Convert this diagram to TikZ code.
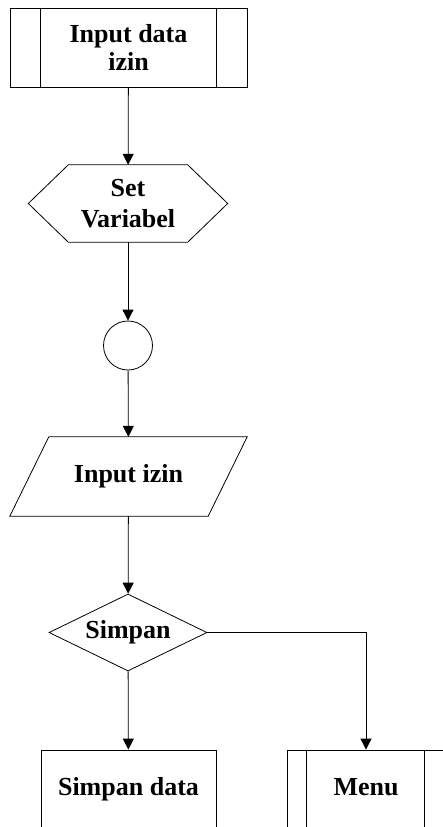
\documentclass[tikz,border=0pt]{standalone}
\usepackage{fontspec}
\setmainfont{Liberation Serif}
\usepackage{tikz}
\usetikzlibrary{arrows.meta,positioning,shapes.geometric}

\begin{document}
\begin{tikzpicture}[
    x=1pt, y=-1pt,
    >={Triangle[length=11pt,width=11pt]},
    font=\fontsize{26}{28}\selectfont\bfseries,
    every node/.style={inner sep=0pt},
    box/.style={
        rectangle,
        draw=black,
        line width=0.8pt,
        align=center
    },
    body/.style={
        rectangle,
        minimum height=77pt,
        align=center
    },
    decide/.style={
        diamond,
        draw=black,
        line width=0.8pt,
        aspect=2.05,
        minimum width=158pt,
        minimum height=77pt
    },
    endbox/.style={
        box,
        minimum height=78pt,
        text height=18pt,
        text depth=6pt
    },
    outline/.style={line width=0.8pt, line join=miter},
    link/.style={->, line width=0.8pt}
]

\clip (0,0) rectangle (443,827);

% Shapes
\node[box, minimum width=237pt, minimum height=79pt] (inputdata) at (128.5,47.5) {Input data\\izin};
\node[body, minimum width=119pt] (setvar) at (128,203.5) {Set\\[3pt]Variabel};
\node[circle, draw=black, line width=0.8pt, minimum size=49pt] (conn) at (128,345.5) {};
\node[body, minimum width=198pt, minimum height=79pt] (inputizin) at (128.5,476.5) {Input izin};
\node[decide] (simpan) at (128,632.5) {Simpan};
\node[endbox, minimum width=175pt] (simpandata) at (128.5,789) {Simpan data};
\node[endbox, minimum width=158pt] (menu) at (366,789) {Menu};

% Hexagon outline
\draw[outline] (setvar.north west) -- (setvar.north east) -- ([xshift=40pt]setvar.east)
    -- (setvar.south east) -- (setvar.south west) -- ([xshift=-40pt]setvar.west) -- cycle;

% Parallelogram outline
\draw[outline] ([xshift=19.5pt]inputizin.north west) -- ([xshift=19.5pt]inputizin.north east)
    -- ([xshift=-19.5pt]inputizin.south east) -- ([xshift=-19.5pt]inputizin.south west) -- cycle;

% Inner lines of the sub-process boxes
\draw[outline] ([xshift=31pt]inputdata.north west) -- ([xshift=31pt]inputdata.south west);
\draw[outline] ([xshift=-31pt]inputdata.north east) -- ([xshift=-31pt]inputdata.south east);
\draw[outline] ([xshift=20pt]menu.north west) -- ([xshift=20pt]menu.south west);
\draw[outline] ([xshift=-21pt]menu.north east) -- ([xshift=-21pt]menu.south east);

% Arrows
\draw[link] (inputdata) -- (setvar);
\draw[link] (setvar) -- (conn);
\draw[link] (conn) -- (inputizin);
\draw[link] (inputizin) -- (simpan);
\draw[link] (simpan) -- (simpandata);
\draw[link] (simpan.east) -| (menu.north);

\end{tikzpicture}
\end{document}
